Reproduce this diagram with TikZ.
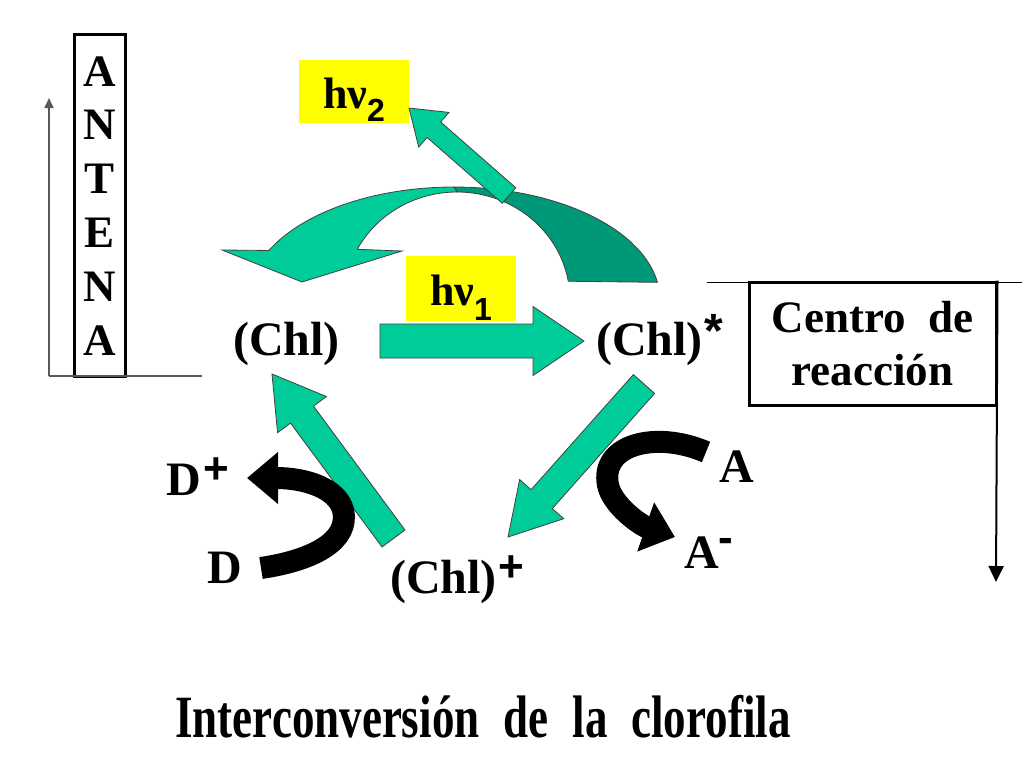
\documentclass[tikz,border=0pt]{standalone}
\usepackage{fontspec}
\setmainfont{Liberation Serif}
\newfontfamily\supfont{Liberation Sans}
\usepackage{graphicx}
\usetikzlibrary{arrows.meta,positioning,calc}
\definecolor{chlgreen}{RGB}{0,204,153}
\definecolor{chldark}{RGB}{0,153,119}
\definecolor{hvyellow}{RGB}{255,255,0}

% block arrow: tail, tip, half shaft, half head, head length
\newcommand{\blockarrow}[5]{%
  \coordinate (ba) at ($(#2)!#5!(#1)$);
  \draw[garrow] ($(#1)!#3!90:(#2)$) -- ($(ba)!#3!-90:(#1)$) -- ($(ba)!#4!-90:(#1)$) -- (#2)
    -- ($(ba)!#4!90:(#1)$) -- ($(ba)!#3!90:(#1)$) -- ($(#1)!#3!-90:(#2)$) -- cycle;
}
\newcommand{\sups}[3][44]{\raisebox{#2}{\supfont\bfseries\fontsize{#1}{#1}\selectfont #3}}

\begin{document}
\begin{tikzpicture}[
  x=1pt, y=-1pt,
  lbl/.style    ={font=\fontsize{48}{56}\selectfont\bfseries, inner sep=0pt, anchor=base west},
  antchar/.style={font=\fontsize{45}{50}\selectfont\bfseries, inner sep=0pt},
  antbox/.style ={draw, line width=3pt, minimum width=51pt, minimum height=341pt, inner sep=0pt},
  rcbox/.style  ={draw, line width=3pt, minimum width=247pt, minimum height=123pt, inner sep=0pt,
                  align=center, font=\fontsize{45}{53}\selectfont\bfseries},
  hvbox/.style  ={fill=hvyellow, minimum width=110pt, inner sep=0pt, text height=44pt, text depth=10pt,
                  font=\fontsize{44}{48}\selectfont\bfseries},
  garrow/.style ={draw=black!75, line width=0.8pt, fill=chlgreen},
  curvdark/.style={draw=black!75, line width=0.8pt, fill=chldark},
  blk/.style    ={line width=22pt, -{Triangle[length=31pt,width=50pt]}},
  gline/.style  ={draw=black!65, line width=1.5pt}
]
\useasboundingbox[fill=white] (0,0) rectangle (1024,768);

% antena
\node[antbox] (antena) at (99.5,205.5) {};
\foreach \l [count=\i] in {A,N,T,E,N,A}
  \node[antchar] (ant\i) at (99.5,{17.5+53.8*\i}) {\l};
\coordinate (ant-foot) at (49,376);
\coordinate (ant-top)  at (49,98);
\coordinate (ant-end)  at (202,376);
\draw[gline,-{Triangle[length=10pt,width=9pt]}] (ant-foot) -- (ant-top);
\draw[gline] (ant-foot) -- (ant-end);

% centro de reaccion
\node[rcbox] (rc) at (872.5,343.5) {Centro\ \ de\\reacción};
\coordinate (rc-left)  at (707,282);
\coordinate (rc-right) at (1022,282);
\coordinate (rc-out)   at (996,582);
\draw[line width=1pt] (rc-left) -- (rc-right);
\draw[line width=2pt,-{Triangle[length=16pt,width=15pt]}] (rc.north east) -- (rc-out);

% clorofila
\node[lbl] (chl)     at (233,355) {(Chl)};
\node[lbl] (chlstar) at (596,355) {(Chl)\hspace{2pt}\sups[48]{8pt}{*}};
\node[lbl] (chlplus) at (390,593) {(Chl)\hspace{2pt}\sups{12pt}{+}};
\node[lbl] (dplus)   at (166,495) {D\hspace{3pt}\sups{12pt}{+}};
\node[lbl] (dlbl)    at (207,583) {D};
\node[lbl] (albl)    at (719,482) {A};
\node[lbl] (aminus)  at (684,568) {A\sups{16pt}{-}};

\node[hvbox, minimum height=65pt] (hv1) at (461,288.5) {hν\raisebox{-15pt}{\supfont\bfseries\fontsize{32}{34}\selectfont 1}};
\node[hvbox, minimum height=63pt] (hv2) at (354,91.5)  {hν\raisebox{-13pt}{\supfont\bfseries\fontsize{32}{34}\selectfont 2}};

% curved arrow (Chl)* -> (Chl)
\draw[curvdark] plot[domain=90:9, samples=40] ({454+206*cos(\x)},{300-113*sin(\x)})
  -- plot[domain=10:90, samples=40] ({457+113*cos(\x)},{300-108*sin(\x)}) -- cycle;
\draw[garrow] (222,250) -- (302,282) -- (402,251) -- (357.2,249.3)
  -- plot[domain=152:90, samples=40] ({457+113*cos(\x)},{300-108*sin(\x)})
  -- plot[domain=90:154, samples=40] ({454+206*cos(\x)},{300-113*sin(\x)}) -- cycle;

% straight arrows
\coordinate (g1a) at (380,341);   \coordinate (g1b) at (584,341);
\coordinate (g2a) at (644,384);   \coordinate (g2b) at (508,537);
\coordinate (g3a) at (393.5,538.5); \coordinate (g3b) at (272,374);
\coordinate (g4a) at (509,195.5); \coordinate (g4b) at (409,108);
\blockarrow{g1a}{g1b}{17pt}{34.5pt}{51pt}
\blockarrow{g2a}{g2b}{14.2pt}{29.5pt}{50.7pt}
\blockarrow{g3a}{g3b}{14.3pt}{30.4pt}{50.5pt}
\blockarrow{g4a}{g4b}{10.3pt}{23pt}{33pt}

% donor / acceptor
\coordinate (dtail) at (261,568); \coordinate (dtip) at (247,478);
\coordinate (atail) at (706,452); \coordinate (atip) at (675,537);
\draw[blk] (dtail) .. controls (315,560) and (350,540) .. (343,510)
  .. controls (337,488) and (305,478) .. (dtip);
\draw[blk] (atail) .. controls (655,430) and (600,445) .. (608,485)
  .. controls (612,505) and (640,525) .. (atip);

\node[lbl, anchor=base] (title) at (483,737)
  {\fontsize{60}{66}\selectfont\scalebox{0.75}[1]{Interconversión\hspace{32pt}de\hspace{32pt}la\hspace{32pt}clorofila}};
\end{tikzpicture}
\end{document}
